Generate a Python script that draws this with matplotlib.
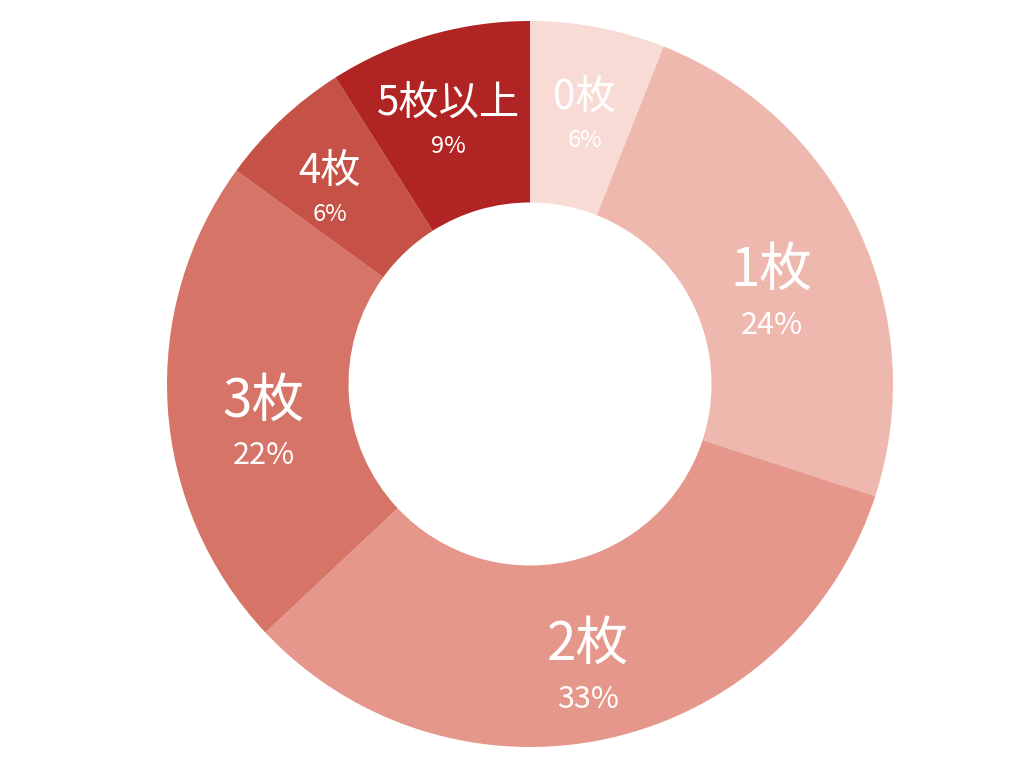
import matplotlib
matplotlib.use("Agg")
import matplotlib.pyplot as plt
import numpy as np

plt.rcParams['font.family'] = ['Noto Sans CJK JP', 'DejaVu Sans']

categories = ["0枚", "1枚", "2枚", "3枚", "4枚", "5枚以上"]
values = [6, 24, 33, 22, 6, 9]
pct_labels = ["6%", "24%", "33%", "22%", "6%", "9%"]
colors = ["#F9DBD6", "#EFB8AF", "#E4978A", "#D77468", "#C55147", "#B12424"]

W, H = 1024, 768
R_PX = 363
CX, CY = 530, 384

fig = plt.figure(figsize=(W / 100, H / 100), dpi=100)
ax = fig.add_axes([0, 0, 1, 1])

wedges, _ = ax.pie(values, colors=colors, startangle=90, counterclock=False,
                   radius=1.0, wedgeprops=dict(width=0.5, edgecolor='none'))
ax.set_xlim(-CX / R_PX, (W - CX) / R_PX)
ax.set_ylim(-(H - CY) / R_PX, CY / R_PX)
ax.set_aspect('equal')
ax.axis('off')

total = sum(values)
cum = 0
for cat, v, p in zip(categories, values, pct_labels):
    mid = (cum + v / 2) / total
    cum += v
    ang = np.deg2rad(90 - 360 * mid)
    big = v >= 20
    r = 0.735 if big else 0.805
    x, y = r * np.cos(ang), r * np.sin(ang)
    fs_name = 38 if big else 29
    fs_pct = 22 if big else 17
    off = 0.152 if big else 0.12
    ax.text(x, y, cat, ha='center', va='center', color='white', fontsize=fs_name)
    ax.text(x, y - off, p, ha='center', va='center', color='white', fontsize=fs_pct)

fig.savefig("out.png", dpi=100)
